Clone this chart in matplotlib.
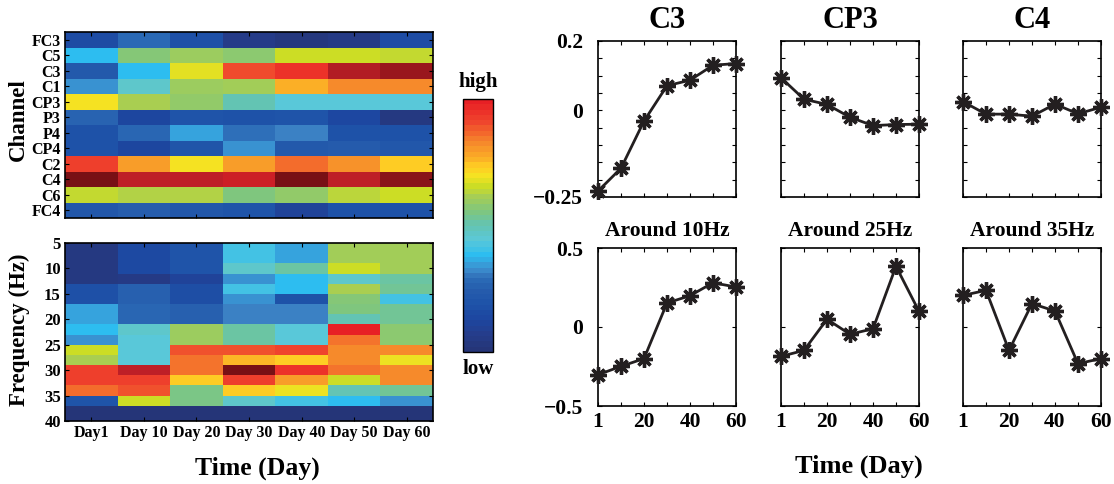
import numpy as np
import matplotlib
matplotlib.use('Agg')
import matplotlib.pyplot as plt
from matplotlib.colors import LinearSegmentedColormap, ListedColormap, Normalize
from matplotlib.cm import ScalarMappable

plt.rcParams['font.family'] = ['Liberation Serif', 'DejaVu Serif']
plt.rcParams['font.weight'] = 'bold'
plt.rcParams['axes.titleweight'] = 'bold'
plt.rcParams['axes.labelweight'] = 'bold'
plt.rcParams['axes.unicode_minus'] = True

# ---------------- data ----------------
days = ['Day1', 'Day 10', 'Day 20', 'Day 30', 'Day 40', 'Day 50', 'Day 60']
channels = ['FC3', 'C5', 'C3', 'C1', 'CP3', 'P3', 'P4', 'CP4', 'C2', 'C4', 'C6', 'FC4']
channel_power = [
    [0.15, 0.28, 0.17, 0.05, 0.02, 0.04, 0.15],   # FC3
    [0.38, 0.57, 0.60, 0.58, 0.66, 0.66, 0.65],   # C5
    [0.22, 0.38, 0.68, 0.91, 0.96, 1.10, 1.14],   # C3
    [0.33, 0.46, 0.60, 0.61, 0.77, 0.83, 0.83],   # C1
    [0.70, 0.62, 0.59, 0.50, 0.44, 0.44, 0.44],   # CP3
    [0.26, 0.12, 0.19, 0.18, 0.19, 0.13, 0.03],   # P3
    [0.18, 0.27, 0.35, 0.29, 0.31, 0.18, 0.18],   # P4
    [0.18, 0.12, 0.20, 0.33, 0.22, 0.23, 0.21],   # CP4
    [0.93, 0.80, 0.70, 0.80, 0.87, 0.82, 0.74],   # C2
    [1.20, 1.08, 1.08, 1.05, 1.20, 1.08, 1.17],   # C4
    [0.65, 0.63, 0.63, 0.56, 0.59, 0.64, 0.66],   # C6
    [0.21, 0.24, 0.21, 0.19, 0.10, 0.18, 0.18],   # FC4
]

freq_edges = [5, 7, 9, 11, 13, 15, 17, 19, 21, 23, 25, 27, 29, 31, 33, 35, 37, 40]
freq_ticks = [5, 10, 15, 20, 25, 30, 35, 40]
freq_power = [
    [0.03, 0.14, 0.19, 0.41, 0.35, 0.61, 0.61],
    [0.03, 0.14, 0.19, 0.41, 0.35, 0.61, 0.61],
    [0.03, 0.14, 0.19, 0.46, 0.52, 0.66, 0.61],
    [0.03, 0.04, 0.10, 0.33, 0.38, 0.46, 0.52],
    [0.17, 0.25, 0.16, 0.41, 0.38, 0.62, 0.53],
    [0.17, 0.25, 0.16, 0.33, 0.18, 0.57, 0.41],
    [0.35, 0.27, 0.25, 0.31, 0.31, 0.56, 0.53],
    [0.35, 0.27, 0.25, 0.31, 0.31, 0.50, 0.53],
    [0.38, 0.46, 0.60, 0.52, 0.44, 1.00, 0.58],
    [0.33, 0.44, 0.60, 0.52, 0.44, 0.86, 0.58],
    [0.66, 0.44, 0.90, 0.90, 0.92, 0.83, 0.83],
    [0.62, 0.44, 0.86, 0.76, 0.74, 0.83, 0.69],
    [0.93, 1.08, 0.86, 1.20, 0.96, 0.86, 0.83],
    [0.93, 0.93, 0.74, 0.93, 0.80, 0.66, 0.83],
    [0.87, 0.90, 0.55, 0.74, 0.69, 0.50, 0.53],
    [0.19, 0.66, 0.55, 0.46, 0.41, 0.38, 0.33],
    [0.00, 0.00, 0.00, 0.00, 0.00, 0.00, 0.00],
]

day_numbers = [1, 10, 20, 30, 40, 50, 60]
day_tick_labels = ['1', '', '20', '', '40', '', '60']
channel_titles = ['C3', 'CP3', 'C4']
channel_trend = [
    [-0.233, -0.167, -0.031, 0.071, 0.087, 0.130, 0.135],
    [0.094, 0.032, 0.017, -0.020, -0.044, -0.041, -0.040],
    [0.025, -0.011, -0.011, -0.017, 0.018, -0.010, 0.009],
]
band_titles = ['Around 10Hz', 'Around 25Hz', 'Around 35Hz']
band_trend = [
    [-0.302, -0.249, -0.200, 0.152, 0.198, 0.280, 0.253],
    [-0.186, -0.148, 0.049, -0.046, -0.011, 0.384, 0.099],
    [0.200, 0.232, -0.148, 0.148, 0.101, -0.232, -0.200],
]

# ---------------- colormap ----------------
anchors = [(0.00, '#253578'), (0.06, '#253d8c'), (0.12, '#1d46a0'), (0.18, '#1e52a8'),
           (0.24, '#265dad'), (0.28, '#2a6ab5'), (0.31, '#3b80c4'), (0.34, '#389cd8'),
           (0.38, '#2cbdf0'), (0.44, '#5bc8d8'), (0.50, '#63c4b2'), (0.56, '#7fc67e'),
           (0.62, '#a8ce52'), (0.66, '#cddd24'), (0.70, '#f5e322'), (0.74, '#fecb24'),
           (0.78, '#faa827'), (0.83, '#f68c2b'), (0.87, '#f36c2c'), (0.92, '#ef442d'),
           (1.00, '#e82025'), (1.08, '#bf1f27'), (1.20, '#781015')]
vmax = 1.2
cmap = LinearSegmentedColormap.from_list('jetlike', [(v / vmax, c) for v, c in anchors])
norm = Normalize(0, vmax)
cb_cmap = ListedColormap(cmap(np.linspace(0, 1.0 / vmax, 48)))

W, H = 1114, 484
fig = plt.figure(figsize=(W / 100, H / 100), dpi=100)


def ax_px(x0, y0, x1, y1):
    return fig.add_axes([x0 / W, 1 - y1 / H, (x1 - x0) / W, (y1 - y0) / H])


# ---------------- heatmaps ----------------
ax1 = ax_px(65, 32, 433, 218)
ax1.pcolormesh(np.arange(len(days) + 1), np.arange(len(channels) + 1),
               np.array(channel_power), cmap=cmap, norm=norm)
ax1.set_xlim(0, len(days))
ax1.set_ylim(len(channels), 0)
ax1.set_yticks(np.arange(len(channels)) + 0.5)
ax1.set_yticklabels(channels, fontsize=11.5, fontweight='bold')
ax1.set_xticks(np.arange(len(days)) + 0.5)
ax1.set_xticklabels([])
ax1.tick_params(direction='in', length=3, width=0.8, top=True, right=True, pad=3)

ax2 = ax_px(65, 243, 433, 421)
ax2.pcolormesh(np.arange(len(days) + 1), freq_edges, np.array(freq_power),
               cmap=cmap, norm=norm)
ax2.set_xlim(0, len(days))
ax2.set_ylim(40, 5)
ax2.set_yticks(freq_ticks)
ax2.set_yticklabels([str(f) for f in freq_ticks], fontsize=12, fontweight='bold')
ax2.set_xticks(np.arange(len(days)) + 0.5)
ax2.set_xticklabels(days, fontsize=11.5, fontweight='bold')
ax2.tick_params(direction='in', length=3, width=0.8, top=True, right=True, pad=3)

for a in (ax1, ax2):
    for s in a.spines.values():
        s.set_linewidth(1.2)

fig.text(18 / W, 1 - 120 / H, 'Channel', rotation=90, ha='center', va='center',
         fontsize=16.5, fontweight='bold')
fig.text(19 / W, 1 - 330 / H, 'Frequency (Hz)', rotation=90, ha='center', va='center',
         fontsize=16.5, fontweight='bold')
fig.text(257 / W, 1 - 468 / H, 'Time (Day)', ha='center', va='center',
         fontsize=18.5, fontweight='bold')

# ---------------- colorbar ----------------
cax = ax_px(463, 99, 493, 352)
cb = fig.colorbar(ScalarMappable(norm=Normalize(0, 1), cmap=cb_cmap), cax=cax)
cb.set_ticks([])
cb.outline.set_linewidth(1.0)
fig.text(478 / W, 1 - 82 / H, 'high', ha='center', va='center', fontsize=15, fontweight='bold')
fig.text(478 / W, 1 - 369 / H, 'low', ha='center', va='center', fontsize=15, fontweight='bold')

# ---------------- line plots ----------------
xpos = np.arange(len(day_numbers))
lefts = [598, 781, 963]
pw = 138


def style_line_axes(a):
    a.set_xlim(xpos[0], xpos[-1])
    a.set_xticks(xpos)
    a.tick_params(direction='in', length=3, width=0.8, top=True, right=True)
    for s in a.spines.values():
        s.set_linewidth(1.2)


for i in range(3):
    a = ax_px(lefts[i], 41, lefts[i] + pw, 197)
    a.plot(xpos, channel_trend[i], color='#231f20', lw=2.0, marker=(8, 2, 0),
           ms=12, mew=2.4, clip_on=False, zorder=5)
    style_line_axes(a)
    a.set_ylim(-0.25, 0.2)
    yt = np.round(np.arange(-0.25, 0.2001, 0.05), 2)
    a.set_yticks(yt)
    if i == 0:
        a.set_yticklabels(['\u22120.25' if abs(v + 0.25) < 1e-6 else ('0' if abs(v) < 1e-6 else
                           ('0.2' if abs(v - 0.2) < 1e-6 else '')) for v in yt],
                          fontsize=15.5, fontweight='bold')
        a.tick_params(axis='y', pad=11)
    else:
        a.set_yticklabels([])
    a.set_xticklabels([])
    a.set_title(channel_titles[i], fontsize=22, fontweight='bold', pad=9)

for i in range(3):
    a = ax_px(lefts[i], 248, lefts[i] + pw, 406)
    a.plot(xpos, band_trend[i], color='#231f20', lw=2.0, marker=(8, 2, 0),
           ms=12, mew=2.4, clip_on=False, zorder=5)
    style_line_axes(a)
    a.set_ylim(-0.5, 0.5)
    a.set_yticks([-0.5, 0, 0.5])
    if i == 0:
        a.set_yticklabels(['\u22120.5', '0', '0.5'], fontsize=15.5, fontweight='bold')
        a.tick_params(axis='y', pad=11)
    else:
        a.set_yticklabels([])
    a.set_xticklabels(day_tick_labels, fontsize=15.5, fontweight='bold')
    a.tick_params(axis='x', pad=4)
    a.set_title(band_titles[i], fontsize=15.5, fontweight='bold', pad=9)

fig.text(859 / W, 1 - 466 / H, 'Time (Day)', ha='center', va='center',
         fontsize=19, fontweight='bold')

fig.savefig('out.png', dpi=100, facecolor='white')
